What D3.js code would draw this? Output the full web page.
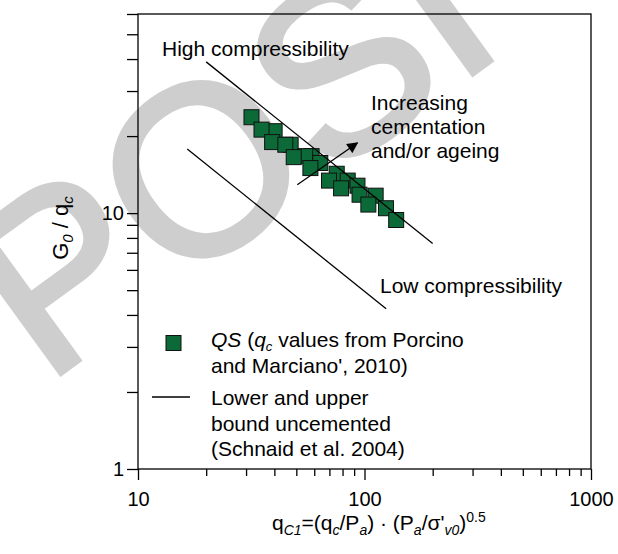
<!DOCTYPE html>
<html>
<head>
<meta charset="utf-8">
<script src="https://cdn.jsdelivr.net/npm/d3@7"></script>
<style>
  html, body { margin: 0; padding: 0; background: #fff; }
  svg { display: block; font-family: "Liberation Sans", Arial, sans-serif; }
</style>
</head>
<body>
<svg id="chart" width="618" height="554"></svg>
<script>
// Normalised cone resistance q_C1 and G0/qc for the QS sand
const qc1  = [31.7, 40.1, 35.1, 39.1, 47.2, 44.7, 58.4, 54.7, 48.7, 63.8, 57.7, 75.4, 69.7, 84.3, 93.1, 78.8, 112, 95.1, 104, 124.4, 138];
const g0qc = [23.7, 20.9, 21.2, 18.95, 18.5, 18.5, 16.7, 16.7, 16.55, 15.7, 15.0, 14.25, 13.4, 13.4, 12.8, 12.5, 11.7, 11.8, 10.8, 10.45, 9.4];

// Schnaid et al. (2004) bounds for uncemented sands: [q_C1, G0/qc] end points
const upperBound = [[20, 39], [200, 7.6]];
const lowerBound = [[16.5, 17.8], [124.6, 4.23]];

// Arrow: increasing cementation and/or ageing
const arrowPts = [[50.5, 12.9], [93, 18.8]];

// Axis ticks
const xMajor = [10, 100, 1000];
const xMinor = [20, 30, 40, 50, 60, 70, 80, 90, 200, 300, 400, 500, 600, 700, 800, 900];
const yMajor = [1, 10];
const yMinor = [2, 3, 4, 5, 6, 7, 8, 9, 20, 30, 40, 50, 60];

const green = "#0b6a38";
const svg = d3.select("#chart");
const mL = 138, mR = 591, mT = 14, mB = 469;

const x = d3.scaleLog().domain([10, 1000]).range([mL, mR]);
const y = d3.scaleLog().domain([1, 60]).range([mB, mT]);

// Watermark
svg.append("text")
  .attr("transform", "translate(45,385) rotate(-36)")
  .attr("font-size", 240)
  .attr("fill", "#cecece")
  .attr("stroke", "#cecece").attr("stroke-width", 5)
  .text("POSI");

// Frame
svg.append("rect")
  .attr("x", mL).attr("y", mT)
  .attr("width", mR - mL).attr("height", mB - mT)
  .attr("fill", "none").attr("stroke", "#000").attr("stroke-width", 1.3);

// Axes
const axFont = g => g.selectAll("text").attr("font-size", 20).attr("fill", "#000").attr("font-family", "'Liberation Sans', Arial, sans-serif");
const axLine = g => { g.select(".domain").remove(); g.selectAll("line").attr("stroke", "#000").attr("stroke-width", 1.3); };

svg.append("g").attr("transform", `translate(0,${mB})`)
  .call(d3.axisBottom(x).tickValues(xMinor).tickSize(7).tickFormat(""))
  .call(axLine);
svg.append("g").attr("transform", `translate(0,${mB})`)
  .call(d3.axisBottom(x).tickValues(xMajor).tickSize(11).tickPadding(12).tickFormat(d3.format("d")))
  .call(axLine).call(axFont);

svg.append("g").attr("transform", `translate(${mL},0)`)
  .call(d3.axisLeft(y).tickValues(yMinor).tickSize(11).tickFormat(""))
  .call(axLine);
svg.append("g").attr("transform", `translate(${mL},0)`)
  .call(d3.axisLeft(y).tickValues(yMajor).tickSize(11).tickPadding(3).tickFormat(d3.format("d")))
  .call(axLine).call(axFont);

// Data squares
const sq = 15;
svg.append("g").selectAll("rect")
  .data(qc1.map((d, i) => [d, g0qc[i]]))
  .join("rect")
  .attr("x", d => x(d[0]) - sq / 2)
  .attr("y", d => y(d[1]) - sq / 2)
  .attr("width", sq).attr("height", sq)
  .attr("fill", green).attr("stroke", "#111").attr("stroke-width", 1);

// Bound lines
const line = d3.line().x(d => x(d[0])).y(d => y(d[1]));
[upperBound, lowerBound].forEach(b => {
  svg.append("path").attr("d", line(b)).attr("fill", "none").attr("stroke", "#000").attr("stroke-width", 1.3);
});

// Arrow
svg.append("defs").append("marker")
  .attr("id", "head").attr("viewBox", "0 0 10 10")
  .attr("refX", 9).attr("refY", 5)
  .attr("markerWidth", 12).attr("markerHeight", 11)
  .attr("markerUnits", "userSpaceOnUse")
  .attr("orient", "auto")
  .append("path").attr("d", "M0,0 L10,5 L0,10 z").attr("fill", "#000");
svg.append("path").attr("d", line(arrowPts))
  .attr("stroke", "#000").attr("stroke-width", 1.3).attr("fill", "none")
  .attr("marker-end", "url(#head)");

// Annotations
const fs = 21;
svg.append("text").attr("x", 162).attr("y", 56).attr("font-size", fs).text("High compressibility");
svg.append("text").attr("x", 380).attr("y", 293).attr("font-size", fs).text("Low compressibility");
["Increasing", "cementation", "and/or ageing"].forEach((t, i) => {
  svg.append("text").attr("x", 371).attr("y", 110 + i * 24).attr("font-size", fs).text(t);
});

// Legend
svg.append("rect").attr("x", 166).attr("y", 335.5).attr("width", 15).attr("height", 15)
  .attr("fill", green).attr("stroke", "#111").attr("stroke-width", 1);
svg.append("line").attr("x1", 152).attr("x2", 190).attr("y1", 397).attr("y2", 397)
  .attr("stroke", "#000").attr("stroke-width", 1.3);

const l1 = svg.append("text").attr("x", 211).attr("y", 347).attr("font-size", fs);
l1.append("tspan").attr("font-style", "italic").text("QS");
l1.append("tspan").text(" (");
l1.append("tspan").attr("font-style", "italic").text("q");
l1.append("tspan").attr("font-style", "italic").attr("font-size", 13).attr("dy", 4).text("c");
l1.append("tspan").attr("dy", -4).text(" values from Porcino");
svg.append("text").attr("x", 211).attr("y", 373).attr("font-size", fs).text("and Marciano', 2010)");
["Lower and upper", "bound uncemented", "(Schnaid et al. 2004)"].forEach((t, i) => {
  svg.append("text").attr("x", 211).attr("y", 405 + i * 25.5).attr("font-size", fs).text(t);
});

// Axis titles
const xt = svg.append("text").attr("x", 272).attr("y", 530).attr("font-size", 21);
xt.append("tspan").text("q");
xt.append("tspan").attr("font-style", "italic").attr("font-size", 14).attr("dy", 5).text("C1");
xt.append("tspan").attr("dy", -5).text("=(q");
xt.append("tspan").attr("font-style", "italic").attr("font-size", 14).attr("dy", 5).text("c");
xt.append("tspan").attr("dy", -5).text("/P");
xt.append("tspan").attr("font-style", "italic").attr("font-size", 14).attr("dy", 5).text("a");
xt.append("tspan").attr("dy", -5).text(") \u00B7 (P");
xt.append("tspan").attr("font-style", "italic").attr("font-size", 14).attr("dy", 5).text("a");
xt.append("tspan").attr("dy", -5).text("/\u03C3'");
xt.append("tspan").attr("font-style", "italic").attr("font-size", 14).attr("dy", 5).text("v0");
xt.append("tspan").attr("dy", -5).text(")");
xt.append("tspan").attr("font-size", 14).attr("dy", -8).text("0.5");

const yt = svg.append("text").attr("transform", "translate(68,228) rotate(-90)")
  .attr("text-anchor", "middle").attr("font-size", 22);
yt.append("tspan").text("G");
yt.append("tspan").attr("font-style", "italic").attr("font-size", 15).attr("dy", 5).text("0");
yt.append("tspan").attr("dy", -5).text(" / q");
yt.append("tspan").attr("font-style", "italic").attr("font-size", 15).attr("dy", 5).text("c");
</script>
</body>
</html>
